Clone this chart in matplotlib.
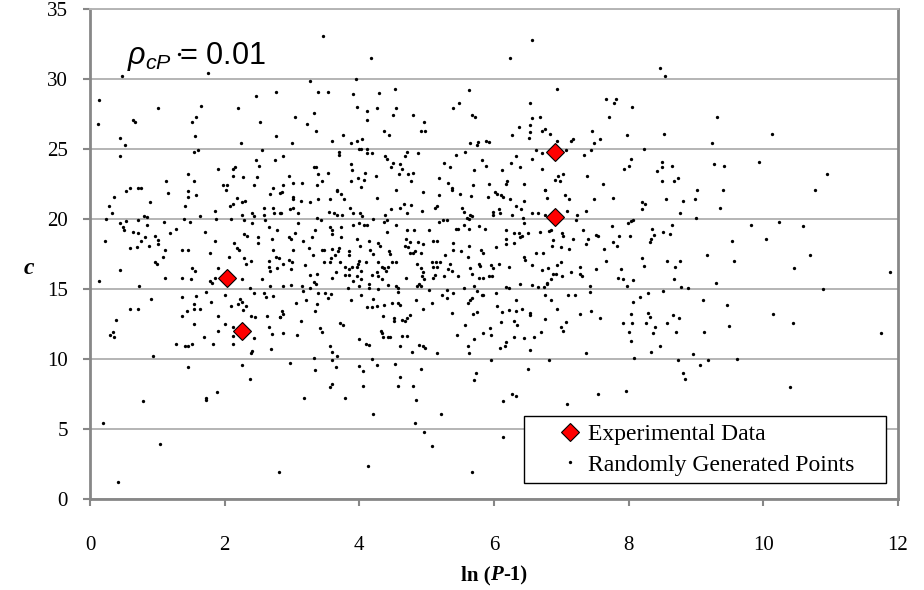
import numpy as np
import matplotlib.pyplot as plt
from matplotlib.offsetbox import TextArea, HPacker, AnchoredOffsetbox

plt.rcParams['mathtext.fontset'] = 'custom'
plt.rcParams['mathtext.it'] = 'Liberation Sans:italic'
plt.rcParams['mathtext.rm'] = 'Liberation Sans'

serif = 'Liberation Serif'

# experimental points (ln(P-1), c)
exp_x = [2.03, 2.25, 6.90, 6.90]
exp_y = [15.76, 12.0, 24.76, 20.12]

# randomly generated points
rand_pts = [
    (0.47, 30.24), (1.75, 30.4), (1.32, 31.8), (0.14, 28.5), (0.12, 26.8), (1.01, 27.9), (0.64, 27.1), (0.67, 26.9),
    (0.45, 25.8), (0.52, 25.3), (0.44, 24.5), (1.65, 28.1), (1.58, 27.3), (1.51, 26.9), (1.56, 25.9), (1.61, 24.9),
    (1.54, 24.8), (2.20, 27.95), (2.46, 28.8), (2.76, 29.1), (2.53, 26.9), (2.76, 25.9), (2.24, 25.4), (2.55, 24.95),
    (2.46, 24.2), (2.51, 23.8), (2.75, 24.2), (1.90, 23.6), (2.13, 23.6), (2.15, 23.7), (2.12, 23.1), (2.27, 23.0),
    (2.48, 23.0), (1.45, 23.2), (1.55, 22.7), (1.13, 22.7), (1.98, 22.4), (2.03, 22.4), (2.44, 22.4), (2.72, 22.2),
    (0.59, 22.2), (0.72, 22.2), (0.76, 22.2),
    (3.46, 33.07), (4.18, 31.5), (3.26, 29.86), (3.95, 30.0), (3.39, 29.1), (3.53, 29.1), (3.91, 28.9), (4.29, 29.0),
    (4.53, 29.3), (3.97, 28.0), (4.12, 27.7), (4.11, 27.1), (4.26, 27.9), (4.55, 27.9), (4.50, 27.4), (3.04, 27.3),
    (3.33, 27.55), (3.22, 26.8), (3.35, 26.3), (4.37, 26.3), (4.44, 26.0), (4.80, 27.4), (4.96, 26.95), (4.92, 26.3),
    (4.98, 26.3), (3.76, 26.0), (3.60, 25.6), (3.00, 25.4), (3.87, 25.4), (3.96, 25.6), (4.04, 25.7), (3.99, 25.0),
    (4.03, 25.0), (4.12, 25.0), (3.70, 24.8), (3.70, 24.55), (4.11, 24.7), (4.19, 24.7), (2.86, 24.5), (4.38, 24.5),
    (4.41, 24.3), (4.71, 24.8), (4.68, 24.5), (4.87, 24.7), (3.88, 23.95), (4.50, 24.0), (4.61, 23.9), (4.47, 23.7),
    (3.33, 23.7), (3.35, 23.7), (4.63, 23.55), (3.53, 23.3), (3.39, 23.2), (3.89, 23.5), (4.09, 23.3), (4.59, 23.2),
    (4.79, 23.3), (4.73, 23.2), (2.95, 23.05), (3.98, 22.9), (4.07, 22.8), (4.25, 23.05), (3.44, 22.7), (3.87, 22.7),
    (4.77, 22.7), (3.02, 22.6), (3.15, 22.6), (3.37, 22.4), (2.86, 22.4), (4.03, 22.3), (3.67, 22.1), (4.55, 22.1),
    (5.63, 29.2), (5.39, 27.9), (5.48, 28.3), (5.68, 27.4), (5.72, 27.3), (5.65, 25.4), (5.76, 25.5), (5.75, 25.3),
    (5.88, 25.6), (5.92, 25.5), (5.57, 24.8), (5.44, 24.55), (5.26, 24.0), (5.35, 23.7), (5.82, 24.2), (5.88, 23.8),
    (5.71, 23.5), (5.19, 22.9), (5.31, 22.6), (5.69, 22.4), (5.92, 22.5), (5.37, 22.2),
    (6.57, 32.8), (6.24, 31.5), (8.47, 30.8), (8.54, 30.2), (6.94, 29.3), (6.53, 28.3), (7.67, 28.55), (7.78, 28.3),
    (7.81, 28.6), (8.05, 28.0), (6.57, 27.2), (6.69, 27.3), (7.71, 27.3), (6.37, 26.6), (6.54, 26.75), (6.53, 26.2),
    (6.52, 25.8), (6.27, 26.0), (6.72, 26.3), (6.76, 26.4), (6.83, 26.1), (7.45, 26.3), (7.98, 26.0), (8.52, 26.1),
    (6.93, 25.6), (7.14, 25.6), (7.17, 25.7), (7.49, 25.4), (7.57, 25.7), (8.23, 25.0), (6.62, 24.9), (6.71, 24.7),
    (7.07, 24.9), (7.44, 24.9), (7.34, 24.6), (6.32, 24.5), (6.57, 24.3), (6.25, 24.0), (6.39, 23.7), (6.12, 23.5),
    (6.71, 23.55), (8.03, 24.3), (8.00, 23.8), (7.93, 23.6), (8.49, 24.1), (8.50, 23.7), (8.42, 23.4), (8.65, 23.8),
    (8.74, 22.9), (8.67, 22.7), (8.50, 22.7), (7.03, 23.2), (6.95, 23.1), (6.91, 22.8), (6.98, 22.7), (7.38, 23.05),
    (6.20, 22.7), (6.18, 22.5), (6.45, 22.5), (7.62, 22.5), (6.75, 22.1), (9.01, 22.1),
    (9.31, 27.3), (10.13, 26.1), (9.24, 25.4), (9.26, 23.9), (9.42, 23.8), (9.93, 24.1), (10.94, 23.2), (9.40, 22.1),
    (10.76, 22.1),
    (0.54, 22.0), (2.02, 22.05), (0.35, 21.6), (1.16, 21.85), (1.45, 22.0), (1.57, 21.7), (1.46, 21.6), (2.18, 21.5),
    (2.25, 21.2), (2.30, 21.3), (2.12, 21.1), (2.08, 20.9), (2.68, 21.8), (2.82, 21.85), (0.89, 21.2), (0.28, 20.9),
    (0.33, 20.4), (0.24, 20.0), (1.41, 20.95), (1.86, 20.6), (1.87, 20.0), (1.63, 20.2), (0.80, 20.2), (0.84, 20.15),
    (2.40, 20.4), (2.43, 20.2), (2.58, 20.8), (2.58, 20.3), (2.72, 20.8), (2.74, 20.4), (2.82, 20.4), (2.25, 20.3),
    (2.09, 20.0), (2.29, 19.9), (2.41, 19.7), (2.60, 19.95), (1.40, 20.0), (1.49, 19.8), (1.10, 19.8), (0.71, 19.9),
    (0.53, 19.85), (0.45, 19.7), (0.85, 19.6), (0.49, 19.4), (0.51, 19.2), (0.64, 19.05), (0.71, 19.0), (1.28, 19.3),
    (1.19, 19.0), (1.71, 19.1), (2.28, 18.9), (2.33, 18.8), (2.49, 18.7), (2.50, 18.3), (2.66, 19.4), (2.78, 19.2),
    (2.70, 18.6), (0.22, 18.4), (0.82, 18.7), (0.75, 18.4), (0.87, 18.1), (0.96, 18.8), (1.01, 18.5), (1.01, 18.2),
    (0.70, 18.0), (0.59, 17.9), (1.86, 18.4), (2.14, 18.3), (2.18, 17.95), (2.21, 17.8), (1.12, 17.8), (1.36, 17.8),
    (1.45, 17.8), (1.78, 17.6), (2.72, 17.8), (2.76, 17.3), (2.07, 17.3), (2.28, 17.2), (2.39, 17.0), (2.31, 16.8),
    (0.97, 16.9), (1.00, 16.8), (1.08, 17.3), (2.66, 17.0), (2.66, 16.6), (2.68, 16.3), (2.80, 17.2), (2.77, 16.5),
    (0.14, 15.6), (0.45, 16.36), (1.52, 16.5), (1.56, 16.3), (1.90, 16.5), (1.11, 15.8), (1.37, 15.8), (1.50, 15.7),
    (1.78, 15.6), (1.81, 15.4), (1.85, 15.8), (1.95, 15.8), (2.26, 15.7), (2.55, 15.7), (2.67, 15.2), (0.73, 15.2),
    (1.72, 14.8), (2.38, 15.05), (2.43, 14.75), (2.59, 14.75), (2.61, 14.45), (2.72, 14.5), (2.00, 14.6), (0.91, 14.3),
    (1.36, 14.4), (1.57, 14.5), (2.23, 14.3), (2.25, 14.1), (2.20, 13.9), (2.27, 13.5), (2.32, 13.8), (1.54, 13.9),
    (1.54, 13.55), (1.63, 13.55), (1.44, 13.45), (1.79, 14.05), (2.10, 13.8), (0.60, 13.6), (0.72, 13.55), (1.90, 13.1),
    (2.39, 13.1), (2.45, 13.0), (1.37, 13.1), (2.63, 13.1), (2.82, 13.0), (0.38, 12.8), (1.55, 12.5), (2.00, 12.5),
    (2.13, 12.3), (2.66, 12.3), (0.34, 11.9), (0.30, 11.7), (0.35, 11.6), (1.90, 12.0), (2.70, 11.8), (1.69, 11.6),
    (2.13, 11.65), (2.43, 11.5), (1.27, 11.1), (1.41, 10.9), (1.45, 10.95), (1.52, 11.1), (1.82, 11.1), (2.13, 11.1),
    (2.69, 10.75), (2.40, 10.6), (2.39, 10.45),
    (2.85, 21.9), (4.94, 21.9), (5.19, 21.7), (5.37, 22.1), (5.50, 21.8), (5.66, 21.65), (5.91, 21.6), (3.02, 21.6),
    (3.01, 21.4), (3.67, 22.0), (3.73, 21.8), (3.77, 21.4), (3.57, 21.4), (4.26, 21.5), (3.14, 21.3), (3.26, 21.2),
    (3.38, 21.4), (3.86, 20.8), (2.97, 20.7), (3.01, 20.8), (2.84, 20.4), (3.09, 20.4), (3.55, 20.5), (3.62, 20.4),
    (3.67, 20.3), (3.74, 20.3), (3.90, 20.4), (4.01, 20.4), (4.04, 20.2), (3.37, 20.05), (3.43, 19.95), (4.20, 20.0),
    (4.38, 20.3), (4.41, 19.95), (4.36, 19.8), (4.47, 20.7), (4.60, 20.8), (4.67, 21.1), (4.76, 21.0), (4.71, 20.45),
    (5.13, 20.8), (5.15, 20.95), (4.93, 20.6), (5.52, 20.8), (5.55, 20.5), (5.65, 20.3), (5.63, 20.0), (5.60, 20.1),
    (5.67, 20.25), (5.18, 19.8), (5.24, 19.9), (5.30, 19.95), (3.09, 19.7), (3.91, 19.6), (4.00, 19.7), (4.07, 19.6),
    (4.12, 19.55), (3.57, 19.45), (3.59, 19.25), (3.60, 18.95), (3.34, 19.2), (3.73, 19.45), (4.55, 19.6), (4.81, 19.2),
    (4.71, 19.2), (5.04, 19.2), (5.43, 19.3), (5.46, 19.3), (5.55, 19.55), (5.63, 19.3), (5.77, 19.5), (5.87, 19.3),
    (3.04, 19.0), (2.96, 18.7), (2.98, 18.55), (3.17, 18.4), (3.30, 18.7), (3.73, 18.75), (3.96, 18.6), (4.14, 18.45),
    (4.28, 18.3), (4.41, 19.05), (4.70, 18.55), (4.75, 18.35), (4.87, 18.35), (4.95, 18.25), (5.09, 18.4), (5.15, 18.4),
    (5.39, 18.3), (4.01, 18.1), (4.31, 18.1), (4.68, 18.1), (4.72, 18.0), (5.63, 18.1), (3.02, 17.8), (3.25, 17.9),
    (3.44, 17.8), (3.48, 17.8), (3.70, 17.9), (3.68, 17.7), (3.60, 17.85), (3.85, 17.7), (4.16, 17.8), (4.20, 17.5),
    (4.44, 17.7), (4.46, 17.5), (4.75, 17.6), (4.79, 17.55), (4.91, 17.55), (4.83, 17.7), (5.27, 17.45), (5.39, 17.8),
    (5.51, 17.7), (5.62, 17.3), (5.81, 17.8), (5.84, 17.55), (3.31, 17.4), (2.87, 16.8), (2.96, 17.1), (3.00, 16.9),
    (3.58, 17.2), (3.56, 16.95), (3.64, 17.4), (3.71, 16.95), (3.47, 16.95), (3.85, 17.4), (3.79, 16.55), (3.85, 16.4),
    (4.00, 17.0), (4.10, 16.95), (3.98, 16.8), (3.97, 16.6), (3.89, 16.6), (4.27, 16.9), (4.34, 16.55), (4.42, 16.55),
    (4.48, 16.9), (4.55, 16.9), (4.85, 16.8), (4.92, 16.5), (5.08, 16.95), (5.14, 16.95), (5.10, 16.6), (5.15, 16.6),
    (5.20, 16.9), (5.35, 16.8), (5.77, 16.8), (5.79, 16.65), (5.65, 16.5), (3.19, 16.7), (2.98, 16.4), (3.65, 16.25),
    (4.03, 16.3), (4.26, 16.2), (4.37, 16.5), (4.39, 16.3), (4.94, 16.2), (5.31, 16.4), (5.38, 16.3), (3.37, 16.1),
    (3.79, 16.0), (3.84, 16.0), (3.91, 15.6), (3.97, 15.95), (4.02, 15.7), (3.27, 16.0), (3.60, 15.8), (4.19, 16.0),
    (4.27, 15.95), (4.33, 15.7), (4.70, 15.8), (4.93, 15.9), (4.96, 15.7), (5.09, 15.8), (5.13, 16.0), (5.25, 15.9),
    (5.47, 15.95), (5.67, 16.1), (5.77, 15.8), (5.84, 15.8), (5.92, 15.9), (3.33, 15.5), (3.36, 15.35), (3.15, 15.2),
    (3.17, 14.85), (2.99, 15.3), (2.86, 15.2), (3.27, 15.05), (3.83, 15.1), (4.00, 15.2), (4.14, 15.35), (4.15, 15.1),
    (4.27, 15.0), (4.43, 15.3), (4.54, 15.2), (4.58, 15.1), (4.85, 15.2), (4.89, 15.35), (4.92, 15.2), (5.04, 14.9),
    (5.30, 14.9), (5.55, 15.1), (5.71, 15.2), (5.84, 14.55), (5.75, 14.85), (3.21, 14.2), (3.39, 14.75), (3.49, 14.75),
    (3.53, 14.35), (3.58, 14.65), (3.88, 14.2), (4.02, 14.55), (4.21, 14.3), (4.58, 14.8), (4.58, 14.0), (4.60, 13.85),
    (4.48, 14.0), (4.84, 14.2), (5.08, 14.0), (5.23, 14.6), (5.30, 14.35), (5.39, 14.7), (5.65, 14.2), (5.68, 14.35),
    (5.61, 14.0), (5.82, 14.6), (3.06, 14.0), (3.37, 13.9), (4.11, 13.7), (4.19, 13.7), (4.26, 13.8), (4.37, 13.85),
    (4.95, 13.55), (3.34, 13.45), (2.85, 13.4), (2.87, 13.2), (2.82, 13.0), (5.37, 13.3), (5.75, 13.35), (5.69, 13.2),
    (4.35, 13.1), (4.75, 13.15), (4.71, 12.9), (4.63, 12.8), (4.68, 12.75), (4.51, 12.9), (4.52, 12.75), (3.14, 12.75),
    (3.71, 12.6), (3.76, 12.45), (3.41, 12.2), (3.45, 11.9), (4.32, 12.0), (4.33, 11.85), (5.57, 12.4), (5.94, 12.2),
    (5.84, 11.85), (2.86, 11.85), (3.07, 11.7), (4.35, 11.6), (4.43, 11.6), (4.46, 11.6), (4.63, 11.65), (4.71, 11.65),
    (5.45, 11.7), (3.99, 11.4), (5.71, 11.4), (4.10, 11.1), (4.15, 11.0), (3.56, 10.95), (4.61, 10.9), (4.88, 11.0),
    (4.94, 10.9), (4.98, 10.8), (5.62, 10.9), (3.60, 10.5), (4.78, 10.5), (5.15, 10.4), (5.63, 10.45),
    (6.02, 21.9), (6.05, 21.8), (6.10, 21.7), (6.13, 21.6), (6.24, 21.4), (6.44, 21.3), (6.75, 22.1), (6.78, 21.5),
    (7.06, 21.7), (7.12, 21.4), (7.49, 21.4), (7.77, 21.5), (8.20, 21.2), (8.24, 21.1), (8.20, 20.7), (8.55, 21.4),
    (8.81, 21.3), (8.98, 21.4), (8.76, 20.45), (9.00, 20.1), (5.98, 20.5), (5.99, 20.3), (6.08, 20.75), (6.09, 20.4),
    (6.32, 20.9), (6.40, 20.7), (6.27, 20.3), (6.43, 20.05), (6.44, 19.7), (6.56, 20.4), (6.65, 20.4), (6.76, 20.3),
    (6.89, 20.4), (7.09, 20.6), (7.23, 20.3), (7.22, 19.9), (7.37, 20.6), (7.75, 19.5), (7.99, 19.7), (8.03, 19.85),
    (8.06, 19.9), (8.34, 19.3), (8.37, 18.85), (8.32, 18.35), (8.33, 18.55), (8.51, 19.1), (8.61, 18.9), (8.64, 19.6),
    (6.03, 18.0), (6.18, 19.2), (6.18, 18.6), (6.18, 18.2), (6.29, 19.0), (6.29, 18.3), (6.37, 19.0), (6.39, 18.75),
    (6.41, 18.8), (6.51, 19.0), (6.68, 19.1), (6.81, 19.15), (6.85, 19.2), (6.88, 18.5), (6.86, 18.1), (7.01, 19.0),
    (7.03, 18.8), (7.00, 18.0), (7.12, 17.85), (7.17, 18.6), (7.32, 19.2), (7.40, 18.6), (7.37, 18.25), (7.52, 18.85),
    (7.54, 18.8), (7.64, 17.85), (7.76, 18.35), (7.83, 18.05), (7.86, 18.8), (8.02, 18.8), (6.08, 16.8), (5.95, 16.7),
    (5.98, 16.5), (5.97, 15.95), (6.22, 16.6), (6.45, 17.3), (6.46, 17.1), (6.62, 17.6), (6.73, 17.55), (6.56, 16.7),
    (6.71, 16.35), (6.80, 16.5), (6.94, 16.7), (7.00, 16.9), (6.88, 16.05), (6.92, 16.1), (7.01, 15.9), (6.84, 15.75),
    (6.79, 15.4), (7.14, 16.25), (7.27, 16.55), (7.28, 16.05), (7.31, 15.9), (7.52, 16.4), (7.66, 17.0), (7.88, 16.45),
    (7.84, 15.8), (7.92, 15.7), (8.06, 15.65), (7.97, 15.25), (8.20, 17.2), (8.23, 16.65), (8.57, 17.0), (8.76, 17.0),
    (8.69, 16.55), (8.67, 15.7), (8.77, 15.15), (8.88, 15.1), (8.51, 14.85), (8.28, 14.75), (8.17, 14.4), (8.06, 14.1),
    (6.03, 14.75), (6.18, 15.15), (6.22, 15.1), (6.39, 15.35), (6.56, 15.3), (6.65, 15.15), (6.74, 15.15), (6.78, 15.35),
    (6.76, 14.55), (6.84, 14.25), (7.10, 14.55), (7.21, 14.6), (7.43, 15.2), (7.42, 14.8), (6.32, 14.2), (6.04, 13.8),
    (6.12, 13.35), (6.22, 13.5), (6.32, 13.45), (6.42, 13.6), (6.54, 13.3), (6.53, 13.15), (6.94, 13.6), (7.28, 13.25),
    (7.44, 13.4), (7.57, 12.95), (8.03, 13.25), (8.05, 12.6), (7.92, 12.6), (8.29, 13.3), (8.32, 13.0), (8.25, 12.55),
    (8.39, 12.3), (8.36, 11.85), (8.66, 13.15), (8.75, 12.95), (8.57, 12.55), (8.71, 11.9), (8.01, 11.95), (8.03, 11.3),
    (8.47, 10.95), (6.10, 12.65), (6.29, 12.75), (6.34, 12.4), (6.75, 12.85), (7.07, 12.65), (7.00, 12.3), (7.02, 12.0),
    (6.70, 11.9), (6.60, 11.6), (6.45, 11.5), (6.29, 11.55), (5.95, 11.7), (6.18, 11.2), (6.09, 10.8), (6.16, 10.9),
    (6.54, 10.65), (7.37, 10.4), (8.33, 10.5), (8.96, 10.35),
    (9.35, 20.8), (9.82, 19.6), (10.23, 19.8), (10.59, 19.5), (9.53, 18.45), (10.04, 18.6), (9.16, 17.45), (9.56, 17.0),
    (10.70, 17.4), (10.46, 16.5), (11.88, 16.2), (9.30, 15.4), (10.89, 15.0), (9.11, 14.25), (9.46, 13.85), (10.15, 13.2),
    (10.44, 12.6), (9.49, 12.35), (9.12, 11.95), (11.75, 11.85),
    (0.94, 10.2), (1.46, 9.45), (2.26, 9.55), (2.38, 8.6), (0.79, 7.0), (1.72, 7.2), (1.72, 7.07), (1.89, 7.65),
    (0.20, 5.43), (1.04, 3.93), (0.41, 1.24), (2.80, 1.93),
    (2.97, 9.7), (3.33, 10.1), (3.34, 9.2), (3.59, 9.9), (3.67, 10.25), (3.65, 9.4), (3.99, 9.5), (4.06, 9.15),
    (4.19, 10.0), (4.26, 9.6), (4.53, 9.65), (4.60, 8.75), (4.92, 9.3), (5.73, 9.0), (5.70, 8.5), (3.56, 8.0),
    (3.60, 8.2), (3.18, 7.2), (3.78, 7.25), (4.06, 8.1), (4.58, 8.1), (4.80, 8.07), (4.84, 7.07), (4.20, 6.1),
    (5.22, 6.05), (4.82, 5.4), (4.96, 4.8), (5.08, 3.8), (4.13, 2.33), (5.68, 1.9),
    (5.96, 9.95), (6.50, 9.3), (6.81, 9.95), (8.08, 10.07), (8.73, 9.9), (8.81, 9.0), (8.83, 8.6), (9.06, 9.6),
    (6.13, 7.0), (6.27, 7.5), (6.33, 7.36), (7.54, 7.5), (7.96, 7.7), (7.09, 6.76), (6.13, 4.43),
    (9.18, 9.9), (9.61, 10.0), (10.40, 8.0),
]
rand_x = np.array([p[0] for p in rand_pts])
rand_y = np.array([p[1] for p in rand_pts])

x_ticks = [0, 2, 4, 6, 8, 10, 12]
y_ticks = [0, 5, 10, 15, 20, 25, 30, 35]

fig = plt.figure(figsize=(9.24, 5.90), dpi=100)
ax = fig.add_axes([90 / 924, 91 / 590, 808 / 924, 490 / 590])
ax.set_xlim(0, 12)
ax.set_ylim(0, 35)
ax.set_xticks(x_ticks)
ax.set_yticks(y_ticks)
ax.yaxis.grid(True, color='#b4b4b4', lw=1.4)
ax.set_axisbelow(True)

for s in ['left', 'bottom', 'right']:
    ax.spines[s].set_color('#878787')
    ax.spines[s].set_linewidth(2)
ax.spines['top'].set_color('#b4b4b4')
ax.spines['top'].set_linewidth(1.4)

ax.tick_params(direction='out', length=5, width=1.5, color='#878787', labelsize=15)
ax.tick_params(axis='y', pad=11)
ax.tick_params(axis='x', pad=22)
for lab in ax.get_xticklabels() + ax.get_yticklabels():
    lab.set_fontfamily(serif)

h_rand, = ax.plot(rand_x, rand_y, 'o', ms=2.4, color='black', mec='none', zorder=3,
                  label='Randomly Generated Points')
h_exp, = ax.plot(exp_x, exp_y, 'D', ms=9.5, mfc='red', mec='black', mew=0.8, zorder=4,
                 label='Experimental Data')

leg = ax.legend(handles=[h_exp, h_rand], loc='lower left', mode='expand',
                bbox_to_anchor=(0.537, 0.033, 0.448, 0.145), borderaxespad=0,
                prop={'family': serif, 'size': 17}, frameon=True, fancybox=False,
                edgecolor='black', framealpha=1, borderpad=0.3, labelspacing=0.4,
                handlelength=3.3, handletextpad=-0.9)
leg.get_frame().set_linewidth(1.0)

ax.text(0.55, 31.05, r'$\rho_{cP}$ = 0.01', fontsize=22, family='Liberation Sans', va='baseline')

# axis titles
xl = HPacker(children=[TextArea('ln (', textprops=dict(family=serif, weight='bold', size=15)),
                       TextArea('P', textprops=dict(family=serif, weight='bold', style='italic', size=15)),
                       TextArea('-1)', textprops=dict(family=serif, weight='bold', size=15))],
             align='baseline', pad=0, sep=0)
ax.add_artist(AnchoredOffsetbox(loc='upper center', child=xl, frameon=False, pad=0, borderpad=0,
                                bbox_to_anchor=(0.5, -0.135), bbox_transform=ax.transAxes))
ax.set_ylabel('c', family=serif, weight='bold', style='italic', fontsize=17, rotation=0, va='center')
ax.yaxis.set_label_coords(-0.075, 0.47)

fig.savefig('out.png', dpi=100)
